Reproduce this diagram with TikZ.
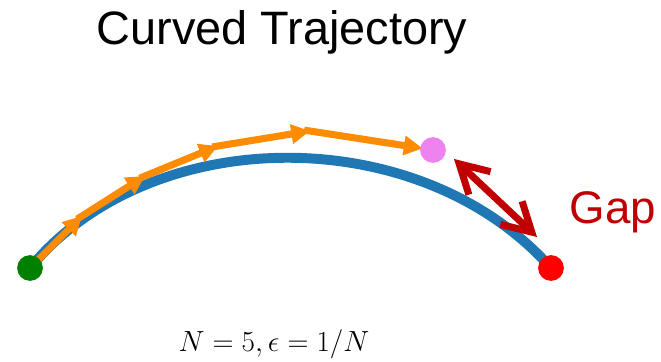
\documentclass[tikz,border=0pt]{standalone}
\usepackage{amsmath,amssymb}
\usepackage{fontspec}
\setmainfont{Liberation Sans}
\usepackage{xcolor}
\usepackage{tikz}
\usetikzlibrary{arrows.meta, positioning, calc}

\definecolor{trajblue}{HTML}{1F77B4}
\definecolor{steporange}{HTML}{FF8C00}
\definecolor{gapred}{HTML}{C00000}
\definecolor{reachpink}{HTML}{EE82EE}

\begin{document}
\begin{tikzpicture}[x=0.03cm, y=-0.03cm,
  dot/.style={circle, inner sep=0pt, minimum size=22pt},
  stepseg/.style={line width=6pt, steporange, shorten <=-5pt, -{Triangle[length=16pt, width=16pt]}}]
\useasboundingbox (0,0) rectangle (661,362);

\node[font=\fontsize{40}{40}\selectfont] (title) at (282,32) {Curved Trajectory};

\coordinate (start) at (30,268);
\coordinate (goal) at (551,268);
\coordinate (reach) at (433,150);

% true curve
\draw[line width=8.5pt, trajblue] (start) .. controls (150,122) and (420,120) .. (goal);

% euler steps
\coordinate (s1) at (82,216);
\coordinate (s2) at (145,176);
\coordinate (s3) at (218,146);
\coordinate (s4) at (310,131);
\draw[stepseg] (start) -- (s1);
\draw[stepseg] (s1) -- (s2);
\draw[stepseg] (s2) -- (s3);
\draw[stepseg] (s3) -- (s4);
\draw[stepseg, shorten >=9pt] (s4) -- (reach);

% end points
\node[dot, fill=green!50!black] (startdot) at (start) {};
\node[dot, fill=red] (goaldot) at (goal) {};
\node[dot, fill=reachpink] (reachdot) at (reach) {};

% gap
\coordinate (gaptop) at (454,159);
\coordinate (gapbot) at (537,237);
\draw[line width=6pt, gapred, arrows={Straight Barb[length=24pt, width=27pt]-Straight Barb[length=24pt, width=27pt]}] (gaptop) -- (gapbot);
\node[gapred, font=\fontsize{39}{39}\selectfont] (gaplabel) at (613,212) {Gap};

% formula
\node[font=\fontsize{26}{26}\selectfont] (formula) at (274,344) {$N=5,\epsilon=1/N$};
\end{tikzpicture}
\end{document}
